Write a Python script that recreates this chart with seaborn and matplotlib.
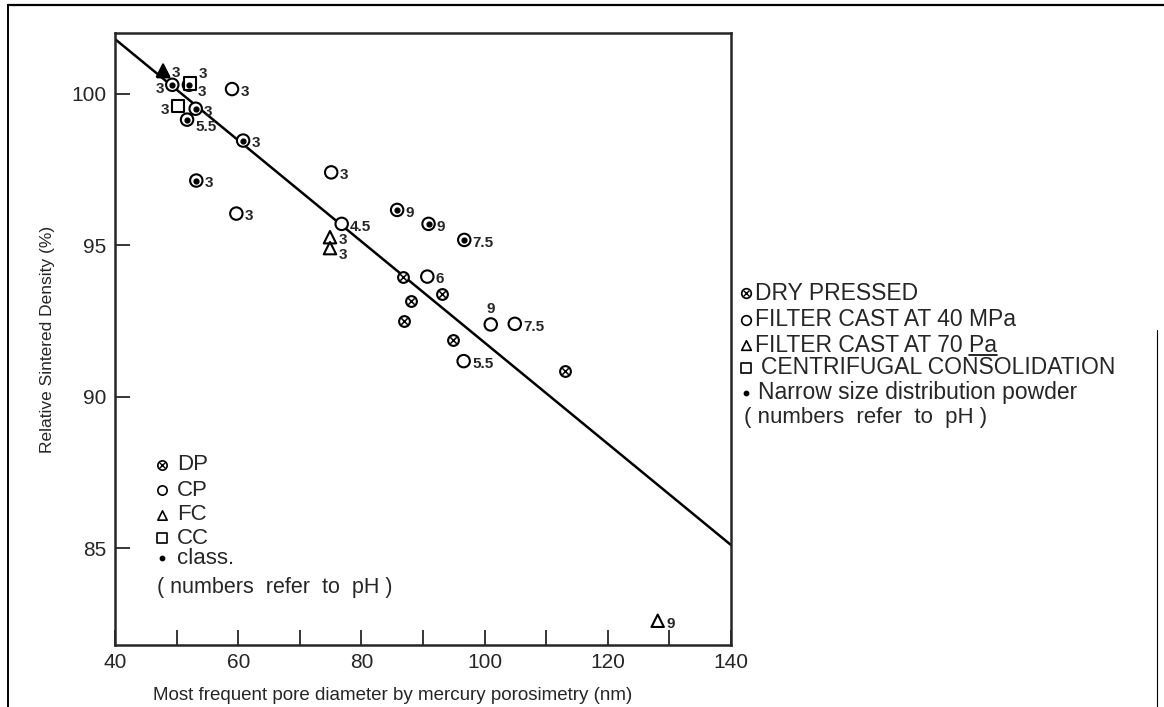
import numpy as np
import pandas as pd
import seaborn as sns
import matplotlib.pyplot as plt

# filter cast at 40 MPa (open circle)
cp_x = [59.0, 59.7, 75.1, 76.8, 90.7, 101.0, 104.9, 96.6]
cp_y = [100.15, 96.04, 97.4, 95.7, 93.96, 92.38, 92.4, 91.17]
cp_ph = ["3", "3", "3", "4.5", "6", "9", "7.5", "5.5"]
cp_pos = ["r", "r", "r", "r", "r", "t", "r", "r"]

# filter cast at 40 MPa, narrow size distribution powder (circle with dot)
cpc_x = [49.3, 52.0, 53.1, 51.7, 60.8, 53.2, 85.8, 90.9, 96.7]
cpc_y = [100.29, 100.29, 99.5, 99.14, 98.45, 97.13, 96.16, 95.7, 95.17]
cpc_ph = ["3", "3", "3", "5.5", "3", "3", "9", "9", "7.5"]
cpc_pos = ["l", "rd", "r", "rd", "r", "r", "r", "r", "r"]

# dry pressed
dp_x = [86.8, 93.1, 88.0, 86.9, 94.9, 113.1]
dp_y = [93.96, 93.4, 93.17, 92.48, 91.87, 90.84]

# filter cast at 70 Pa
fc_x = [74.9, 74.9, 128.1]
fc_y = [95.26, 94.9, 82.6]
fc_ph = ["3", "3", "9"]
fc_pos = ["r", "rd", "r"]

fcc_x = [47.8]
fcc_y = [100.76]
fcc_ph = ["3"]

# centrifugal consolidation
cc_x = [50.2, 52.2]
cc_y = [99.6, 100.33]
cc_ph = ["3", "3"]
cc_pos = ["l", "ru"]

# fitted line
fit_x = [40, 140]
fit_y = [101.8, 85.1]

xticks = [40, 60, 80, 100, 120, 140]
yticks = [85, 90, 95, 100]

W, H = 1164, 707

sns.set_style("ticks")
plt.rcParams['font.family'] = ['Liberation Sans', 'DejaVu Sans']

fig = plt.figure(figsize=(W / 100, H / 100), dpi=100)
ax = fig.add_axes([115 / W, 1 - 645 / H, (731 - 115) / W, (645 - 33) / H])

sns.lineplot(x=fit_x, y=fit_y, ax=ax, color="black", lw=1.8, zorder=1)

df = pd.DataFrame({
    "x": cp_x + cpc_x + fc_x + fcc_x + cc_x,
    "y": cp_y + cpc_y + fc_y + fcc_y + cc_y,
    "method": (["CP"] * (len(cp_x) + len(cpc_x))
               + ["FC"] * (len(fc_x) + len(fcc_x)) + ["CC"] * len(cc_x)),
})
sns.scatterplot(data=df, x="x", y="y", style="method",
                markers={"CP": "o", "FC": "^", "CC": "s"},
                color="white", edgecolor="black", linewidth=1.5, s=80,
                legend=False, ax=ax, zorder=3)

# dry pressed: circle with cross
ax.scatter(dp_x, dp_y, marker="o", s=60, facecolor="white", edgecolor="black",
           lw=1.5, zorder=3)
ax.scatter(dp_x, dp_y, marker="x", s=22, color="black", lw=1.1, zorder=4)
# dots for classified powder, filled triangle
ax.scatter(cpc_x, cpc_y, marker="o", s=12, color="black", zorder=4)
ax.scatter(fcc_x, fcc_y, marker="^", s=80, color="black", zorder=4)

offsets = {"r": (6, -2, "left", "center"), "l": (-6, -3, "right", "center"),
           "t": (0, 6, "center", "bottom"), "ru": (6, 7, "left", "center"),
           "rd": (6, -5, "left", "center")}


def put_labels(xs, ys, labels, pos=None):
    for i, (x, y, s) in enumerate(zip(xs, ys, labels)):
        dx, dy, ha, va = offsets[pos[i] if pos else "r"]
        ax.annotate(s, (x, y), xytext=(dx, dy), textcoords="offset points",
                    ha=ha, va=va, fontsize=11, fontweight="bold", zorder=5)


put_labels(cp_x, cp_y, cp_ph, cp_pos)
put_labels(cpc_x, cpc_y, cpc_ph, cpc_pos)
put_labels(fc_x, fc_y, fc_ph, fc_pos)
put_labels(fcc_x, fcc_y, fcc_ph)
put_labels(cc_x, cc_y, cc_ph, cc_pos)

ax.set_xlim(40, 140)
ax.set_ylim(81.8, 102.0)
ax.set_xticks(range(40, 141, 10))
ax.set_xticklabels([str(t) if t in xticks else "" for t in range(40, 141, 10)])
ax.set_yticks(yticks)
ax.tick_params(direction="in", length=11, width=1.3, labelsize=15, pad=6)
for sp in ax.spines.values():
    sp.set_linewidth(1.8)
    sp.set_visible(True)

ax.set_xlabel("Most frequent pore diameter by mercury porosimetry (nm)",
              fontsize=13.5, labelpad=8)
ax.xaxis.set_label_coords(0.451, -0.068)
ax.set_ylabel("Relative Sintered Density (%)", fontsize=12.5, labelpad=12)


def symbol(x, y, kind, size):
    tr = fig.transFigure
    if kind == "dp":
        ax.scatter([x], [y], marker="o", s=size, facecolor="white", edgecolor="black",
                   lw=1.2, transform=tr, clip_on=False, zorder=5)
        ax.scatter([x], [y], marker="x", s=size * 0.35, color="black", lw=1.0,
                   transform=tr, clip_on=False, zorder=6)
    elif kind == "dot":
        ax.scatter([x], [y], marker="o", s=size, color="black",
                   transform=tr, clip_on=False, zorder=5)
    else:
        m = {"cp": "o", "fc": "^", "cc": "s"}[kind]
        ax.scatter([x], [y], marker=m, s=size, facecolor="white", edgecolor="black",
                   lw=1.2, transform=tr, clip_on=False, zorder=5)


# legend inside the axes
inner_kind = ["dp", "cp", "fc", "cc", "dot"]
inner_text = ["DP", "CP", "FC", "CC", "class."]
inner_y = [465, 490, 515, 538, 558]
for k, s, y in zip(inner_kind, inner_text, inner_y):
    symbol(162 / W, 1 - y / H, k, 45 if k != "dot" else 10)
    fig.text(177 / W, 1 - y / H, s, fontsize=16, va="center")
fig.text(157 / W, 1 - 588 / H, "( numbers  refer  to  pH )", fontsize=15.5,
         va="center")

# legend on the right
right_kind = ["dp", "cp", "fc", "cc", "dot"]
right_text = ["DRY PRESSED", "FILTER CAST AT 40 MPa", "FILTER CAST AT 70 Pa",
              "CENTRIFUGAL CONSOLIDATION", "Narrow size distribution powder"]
right_y = [293, 320, 345, 368, 393]
right_tx = [755, 755, 755, 761, 758]
texts = []
for k, s, y, tx in zip(right_kind, right_text, right_y, right_tx):
    symbol(746 / W, 1 - y / H, k, 48 if k != "dot" else 10)
    texts.append(fig.text(tx / W, 1 - y / H, s, fontsize=16.5, va="center"))
fig.text(744 / W, 1 - 417 / H, "( numbers  refer  to  pH )", fontsize=16,
         va="center")

# underline "Pa"
rend = fig.canvas.get_renderer()
full = texts[2].get_window_extent(rend)
probe = fig.text(0, 0, "Pa", fontsize=16.5)
pw = probe.get_window_extent(rend).width
probe.remove()
fig.add_artist(plt.Line2D([(full.x1 - pw) / W, full.x1 / W],
                          [(full.y0 + 2) / H, (full.y0 + 2) / H],
                          color="black", lw=1.2))

# scan frame
fig.add_artist(plt.Line2D([8 / W, 8 / W], [0, 1 - 5 / H], color="black", lw=1.4))
fig.add_artist(plt.Line2D([8 / W, 1], [1 - 5 / H, 1 - 5 / H], color="black", lw=1.6))
fig.add_artist(plt.Line2D([1157 / W, 1157 / W], [0, 1 - 330 / H], color="black", lw=0.8))

fig.savefig("out.png", dpi=100)
